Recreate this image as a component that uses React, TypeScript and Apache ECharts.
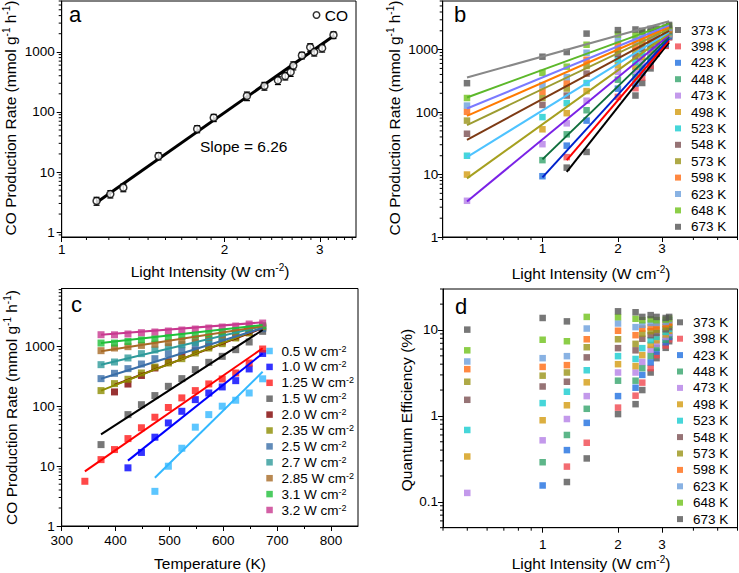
import React, { useEffect, useRef } from "react";
import * as echarts from "echarts";

const FONT = "'Liberation Sans', Arial, Helvetica, sans-serif";

// ---------------- Panel a ----------------
const aIntensity = [1.16, 1.23, 1.3, 1.51, 1.78, 1.91, 2.2, 2.37, 2.51, 2.59, 2.65, 2.68, 2.78, 2.88, 2.93, 3.03, 3.18];
const aRate = [3.3, 4.3, 5.5, 18.4, 52, 80, 184, 270, 335, 395, 460, 590, 870, 1190, 990, 1150, 1900];
const aError = [0.5, 0.6, 0.8, 2.5, 7, 11, 30, 40, 50, 55, 70, 90, 110, 170, 140, 160, 240];
const aFitX = [1.16, 3.19];
const aFitY = [3.1, 1870];

// ---------------- shared grid of conditions ----------------
const temperatures = [373, 398, 423, 448, 473, 498, 523, 548, 573, 598, 623, 648, 673];
const intensities = [0.5, 1.0, 1.25, 1.5, 2.0, 2.35, 2.5, 2.7, 2.85, 3.1, 3.2];
const intensityText = ["0.5", "1.0", "1.25", "1.5", "2.0", "2.35", "2.5", "2.7", "2.85", "3.1", "3.2"];

// CO production rate (mmol g-1 h-1) per light intensity, over temperatures 373..673 K
const rate05 = [null, null, null, null, 3.8, 10, 20, 45, 73, 101, 127, 168, 290];
const rate10 = [null, null, 9.4, 17, 30.6, 53, 83, 130, 168, 212, 270, 424, 770];
const rate125 = [12.9, 19, 29, 44, 66, 96, 139, 184, 238, 288, 363, 533, 914];
const rate15 = [23, null, 73, 107, 152, 217, 292, 413, 547, 689, 891, 1197, 1804];
const rate20 = [null, 175, 237, 330, 440, 560, 700, 850, 1000, 1200, 1450, 1750, 2050];
const rate235 = [184, 241, 285, 363, 457, 533, 630, 784, 950, 1123, 1397, 1693, 2100];
const rate25 = [292, 358, 429, 513, 630, 764, 880, 1040, 1230, 1432, 1630, 1927, 2000];
const rate27 = [500, 554, 647, 764, 880, 990, 1080, 1180, 1300, 1450, 1650, 1900, 2150];
const rate285 = [857, 950, 1000, 1050, 1100, 1170, 1250, 1350, 1440, 1570, 1720, 1950, 2170];
const rate31 = [1150, 1150, 1220, 1300, 1360, 1430, 1490, 1570, 1650, 1760, 1880, 2040, 2250];
const rate32 = [1585, 1580, 1630, 1714, 1760, 1828, 1900, 1972, 2050, 2130, 2215, 2393, 2485];
const ratesByIntensity = [rate05, rate10, rate125, rate15, rate20, rate235, rate25, rate27, rate285, rate31, rate32];
// extra low-temperature point of the 1.25 W cm-2 series
const extraT125 = 343;
const extraRate125 = 5.6;

// Panel b fitted lines (per temperature)
const bFitStartI = [1.25, 1.25, 1.0, 1.0, 0.5, 0.5, 0.5, 0.5, 0.5, 0.5, 0.5, 0.5, 0.5];
const bFitStartRate = [11, 17, 9, 17.5, 3.7, 8.7, 19, 36, 62, 87, 114, 171, 357];
const bFitEndI = 3.2;
const bFitEndRate = [1300, 1400, 1500, 1600, 1700, 1800, 1900, 2000, 2150, 2300, 2450, 2600, 2850];

// Panel c fitted lines (per intensity)
const cFitStartT = [473, 423, 343, 373, 398, 373, 373, 373, 373, 373, 373];
const cFitStartRate = [6.4, 12.4, 8.2, 34, 230, 184, 290, 500, 840, 1150, 1585];
const cFitEndT = 673;
const cFitEndRate = [380, 770, 940, 1900, 2050, 2100, 2050, 2200, 2200, 2300, 2550];

// Panel d: quantum efficiency (%) per temperature, over intensities
const qe373 = [null, null, 0.17, 0.32, 1.05, 1.37, 2.0, 3.2, 4.7, 6.2, 7.4];
const qe398 = [null, null, 0.257, 0.487, 1.25, 1.72, 2.44, 3.6, 5.1, 6.6, 7.8];
const qe423 = [null, 0.155, 0.4, 0.83, 1.7, 2.13, 3.0, 4.2, 5.6, 7.2, 8.3];
const qe448 = [null, 0.289, 0.6, 1.21, 2.57, 2.57, 3.6, 5.0, 6.2, 7.7, 8.7];
const qe473 = [0.127, 0.52, 0.92, 1.7, 3.2, 3.2, 4.25, 5.9, 6.9, 8.3, 9.2];
const qe498 = [0.337, 0.89, 1.33, 2.46, 4.0, 3.8, 5.1, 6.7, 7.6, 8.9, 9.8];
const qe523 = [0.686, 1.41, 1.91, 3.4, 4.96, 4.6, 6.15, 7.6, 8.3, 9.5, 10.3];
const qe548 = [1.54, 2.2, 2.5, 4.8, 6.15, 5.8, 7.9, 8.7, 9.2, 10.2, 10.8];
const qe573 = [2.5, 2.94, 3.2, 6.3, 7.8, 6.9, 9.1, 9.7, 10.1, 10.8, 11.5];
const qe598 = [3.5, 3.72, 3.9, 7.8, 9.8, 8.7, 10.4, 10.8, 11.0, 11.7, 12.2];
const qe623 = [4.3, 4.7, 4.96, 10.4, 11.9, 10.8, 11.5, 12.1, 12.1, 12.4, 13.0];
const qe648 = [5.8, 7.7, 7.4, 14.2, 14.1, 13.5, 13.0, 13.3, 13.0, 13.2, 13.6];
const qe673 = [10.1, 13.8, 12.6, null, 16.5, 16.1, 14.2, 14.9, 14.2, 13.8, 14.2];
const qeByTemp = [qe373, qe398, qe423, qe448, qe473, qe498, qe523, qe548, qe573, qe598, qe623, qe648, qe673];

// Tick labels
const aXTicks = [1, 2, 3];
const bdXTicks = [1, 2, 3];
const cXTicks = [300, 400, 500, 600, 700, 800];
const rateYTicks = [1, 10, 100, 1000];
const qeYTicks = [0.1, 1, 10];

// Colours
const tempPointColors = ["#555555", "#f0474f", "#1f6fe0", "#35a46c", "#b47fe6", "#d39b10", "#18cccf", "#7c5052", "#9a9418", "#ff6a12", "#6c9fdc", "#6fc21a", "#555555"];
const tempLineColors = ["#000000", "#ff0000", "#0022cc", "#0f6e3c", "#7a22e6", "#a6a020", "#4ec3ff", "#7d3a14", "#9c9c30", "#ff7a00", "#7a7aff", "#5cb82a", "#888888"];
const intPointColors = ["#33b8ff", "#0000ff", "#ff1a1a", "#555555", "#800000", "#8c8c00", "#3a6ea8", "#2e9a9a", "#a86a26", "#1fbf3a", "#c8388f"];
const intLineColors = ["#33b8ff", "#0000ff", "#ff0000", "#000000", "#800000", "#8c8c00", "#3a6ea8", "#2e9a9a", "#a86a26", "#1fbf3a", "#c8388f"];

const tempNames = temperatures.map((t) => `${t} K`);
const intNames = intensityText.map((s) => `${s} W cm-2`);
const SQUARE = "path://M0,0L10,0L10,10L0,10Z";

function logMinor(min: number, max: number, skip: number[] = []) {
  const out: number[] = [];
  for (let e = -3; e <= 4; e++) {
    for (let m = 2; m <= 9; m++) {
      const v = +(m * Math.pow(10, e)).toPrecision(6);
      if (v >= min && v <= max && skip.indexOf(v) < 0) out.push(v);
    }
  }
  return out;
}
function ninthMinor(max: number) {
  const out: number[] = [];
  for (let b = 1; b <= 3; b++) for (let k = 1; k <= 8; k++) { const v = b + k / 9; if (v <= max) out.push(v); }
  return out;
}

function tickSeries(grid: number, xs: number[], ys: number[], xMin: number, yMin: number) {
  const data: number[][] = [];
  xs.forEach((v) => data.push([v, yMin, 0]));
  ys.forEach((v) => data.push([xMin, v, 1]));
  return {
    type: "custom", xAxisIndex: grid, yAxisIndex: grid, silent: true, z: 5,
    data,
    renderItem: (_p: any, api: any) => {
      const pt = api.coord([api.value(0), api.value(1)]);
      const d = api.value(2);
      const shape = d === 0
        ? { x1: pt[0], y1: pt[1], x2: pt[0], y2: pt[1] + 3 }
        : { x1: pt[0], y1: pt[1], x2: pt[0] - 3, y2: pt[1] };
      return { type: "line", shape, style: { stroke: "#000", lineWidth: 1 } };
    },
  };
}

const baseAxis = (extra: any) => ({
  axisLine: { show: true, onZero: false, lineStyle: { color: "#000", width: 1 } },
  splitLine: { show: false },
  ...extra,
});
const tick = (vals?: number[]) => ({ show: true, length: 5, lineStyle: { color: "#000", width: 1 }, ...(vals ? { customValues: vals } : {}) });
const label = (margin: number, vals?: number[]) => ({
  show: true, color: "#000", fontSize: 13.5, fontFamily: FONT, margin,
  formatter: (v: number) => `${+(+v).toPrecision(6)}`,
  ...(vals ? { customValues: vals } : {}),
});

const supRich = { sup: { fontSize: 10, lineHeight: 10, verticalAlign: "top", fontFamily: FONT, fill: "#000", color: "#000" } };
const titleText = (x: number, y: number, text: string, rot = 0) => ({
  type: "text", x, y, rotation: rot, silent: true,
  style: { text, fontSize: 15.5, fontFamily: FONT, fill: "#000", align: "center", verticalAlign: "middle", lineHeight: 18, rich: supRich },
});
const panelLetter = (x: number, y: number, t: string) => ({
  type: "text", x, y, silent: true,
  style: { text: t, fontSize: 22, fontFamily: FONT, fill: "#000", align: "left", verticalAlign: "middle" },
});

function buildOption() {
  const series: any[] = [];
  // ---- a ----
  series.push({
    type: "custom", name: "err-a", xAxisIndex: 0, yAxisIndex: 0, silent: true, z: 3,
    data: aIntensity.map((x, i) => [x, aRate[i], aError[i]]),
    renderItem: (_p: any, api: any) => {
      const x = api.value(0), y = api.value(1), e = api.value(2);
      const t = api.coord([x, y + e]);
      const b = api.coord([x, Math.max(y - e, 0.9)]);
      const s = { stroke: "#000", lineWidth: 1.2 };
      return {
        type: "group",
        children: [
          { type: "line", shape: { x1: t[0], y1: t[1], x2: b[0], y2: b[1] }, style: s },
          { type: "line", shape: { x1: t[0] - 3, y1: t[1], x2: t[0] + 3, y2: t[1] }, style: s },
          { type: "line", shape: { x1: b[0] - 3, y1: b[1], x2: b[0] + 3, y2: b[1] }, style: s },
        ],
      };
    },
  });
  series.push({
    type: "line", name: "fit-a", xAxisIndex: 0, yAxisIndex: 0, symbol: "none", silent: true, z: 2,
    data: aFitX.map((x, i) => [x, aFitY[i]]),
    lineStyle: { color: "#000", width: 3 },
  });
  series.push({
    type: "scatter", name: "CO", xAxisIndex: 0, yAxisIndex: 0, symbol: "circle", symbolSize: 7, z: 4,
    data: aIntensity.map((x, i) => [x, aRate[i]]),
    itemStyle: { color: "#fff", borderColor: "#000", borderWidth: 1.5 },
  });
  series.push(tickSeries(0, ninthMinor(3.5), logMinor(0.83, 7000), 1, 0.83));

  // ---- b ----
  temperatures.forEach((t, j) => {
    const data: number[][] = [];
    intensities.forEach((I, i) => { const v = ratesByIntensity[i][j]; if (v != null) data.push([I, v]); });
    series.push({
      type: "scatter", name: tempNames[j], xAxisIndex: 1, yAxisIndex: 1, symbol: "rect", symbolSize: 6.5, z: 2,
      data, itemStyle: { color: tempPointColors[j] },
    });
  });
  temperatures.forEach((t, j) => {
    series.push({
      type: "line", name: `fit-b-${t}`, xAxisIndex: 1, yAxisIndex: 1, symbol: "none", silent: true, z: 3,
      data: [[bFitStartI[j], bFitStartRate[j]], [bFitEndI, bFitEndRate[j]]],
      lineStyle: { color: tempLineColors[j], width: 2 },
    });
  });
  series.push(tickSeries(1, logMinor(0.4, 6, [1, 2, 3]), logMinor(1, 6000), 0.4, 1));

  // ---- c ----
  intensities.forEach((I, i) => {
    const data: number[][] = [];
    if (i === 2) data.push([extraT125, extraRate125]);
    temperatures.forEach((T, j) => { const v = ratesByIntensity[i][j]; if (v != null) data.push([T, v]); });
    series.push({
      type: "scatter", name: intNames[i], xAxisIndex: 2, yAxisIndex: 2, symbol: "rect", symbolSize: 7, z: 2,
      data, itemStyle: { color: intPointColors[i] },
    });
  });
  intensities.forEach((I, i) => {
    series.push({
      type: "line", name: `fit-c-${I}`, xAxisIndex: 2, yAxisIndex: 2, symbol: "none", silent: true, z: 3,
      data: [[cFitStartT[i], cFitStartRate[i]], [cFitEndT, cFitEndRate[i]]],
      lineStyle: { color: intLineColors[i], width: 2 },
    });
  });
  series.push(tickSeries(2, [], logMinor(1, 9400), 300, 1));

  // ---- d ----
  temperatures.forEach((t, j) => {
    const data: number[][] = [];
    intensities.forEach((I, i) => { const v = qeByTemp[j][i]; if (v != null) data.push([I, v]); });
    series.push({
      type: "scatter", name: tempNames[j], xAxisIndex: 3, yAxisIndex: 3, symbol: "rect", symbolSize: 6.5, z: 2,
      data, itemStyle: { color: tempPointColors[j] },
    });
  });
  series.push(tickSeries(3, logMinor(0.4, 6, [1, 2, 3]), logMinor(0.05, 30), 0.4, 0.05));

  const legendText = { color: "#000", fontSize: 13.5, fontFamily: FONT, lineHeight: 14 };

  return {
    animation: false,
    backgroundColor: "#fff",
    textStyle: { fontFamily: FONT },
    grid: [
      { left: 61.7, top: 1, width: 294.3, height: 236, show: true, borderColor: "#000", borderWidth: 1, outerBoundsMode: "none" },
      { left: 442.7, top: 1, width: 294.8, height: 236, show: true, borderColor: "#000", borderWidth: 1, outerBoundsMode: "none" },
      { left: 61.7, top: 288.5, width: 296.3, height: 237.5, show: true, borderColor: "#000", borderWidth: 1, outerBoundsMode: "none" },
      { left: 443, top: 289, width: 294.5, height: 238.7, show: true, borderColor: "#000", borderWidth: 1, outerBoundsMode: "none" },
    ],
    xAxis: [
      baseAxis({ gridIndex: 0, type: "log", logBase: 10, min: 1, max: 3.5, axisTick: tick(aXTicks), axisLabel: label(5.5, aXTicks) }),
      baseAxis({ gridIndex: 1, type: "log", logBase: 10, min: 0.4, max: 6, axisTick: tick(bdXTicks), axisLabel: label(4, bdXTicks) }),
      baseAxis({ gridIndex: 2, type: "value", min: 300, max: 850, interval: 100, axisTick: tick(cXTicks), axisLabel: label(7.5, cXTicks),
        minorTick: { show: true, splitNumber: 2, length: 3, lineStyle: { color: "#000" } } }),
      baseAxis({ gridIndex: 3, type: "log", logBase: 10, min: 0.4, max: 6, axisTick: tick(bdXTicks), axisLabel: label(9.5, bdXTicks) }),
    ],
    yAxis: [
      baseAxis({ gridIndex: 0, type: "log", logBase: 10, min: 0.83, max: 7000, axisTick: tick(rateYTicks), axisLabel: label(7, rateYTicks) }),
      baseAxis({ gridIndex: 1, type: "log", logBase: 10, min: 1, max: 6000, axisTick: tick(rateYTicks), axisLabel: label(4.5, rateYTicks) }),
      baseAxis({ gridIndex: 2, type: "log", logBase: 10, min: 1, max: 9400, axisTick: tick(rateYTicks), axisLabel: label(7, rateYTicks) }),
      baseAxis({ gridIndex: 3, type: "log", logBase: 10, min: 0.05, max: 30, axisTick: tick(qeYTicks), axisLabel: label(5, qeYTicks) }),
    ],
    legend: [
      {
        data: ["CO"], left: 312.5, top: 7, icon: "circle", itemWidth: 6.5, itemHeight: 6.5, padding: 0, selectedMode: false,
        itemStyle: { color: "#fff", borderColor: "#000", borderWidth: 1.5 },
        textStyle: { color: "#000", fontSize: 15.5, fontFamily: FONT, lineHeight: 16 },
      },
      {
        data: tempNames, orient: "vertical", left: 675, top: 23, icon: SQUARE, itemWidth: 16, itemHeight: 6, itemGap: 2.4,
        padding: 0, selectedMode: false, textStyle: legendText,
      },
      {
        data: intNames, orient: "vertical", left: 266.3, top: 344, icon: SQUARE, itemWidth: 14, itemHeight: 6.5, itemGap: 1.9,
        padding: 0, selectedMode: false,
        formatter: (n: string) => n.replace(" cm-2", " cm{sup|-2}"),
        textStyle: { ...legendText, fontSize: 13.5, rich: { sup: { fontSize: 9, lineHeight: 9, verticalAlign: "top", color: "#000", fontFamily: FONT } } },
      },
      {
        data: tempNames, orient: "vertical", left: 677, top: 315.3, icon: SQUARE, itemWidth: 16, itemHeight: 6, itemGap: 2.4,
        padding: 0, selectedMode: false, textStyle: legendText,
      },
    ],
    graphic: [
      titleText(210, 271.7, "Light Intensity (W cm{sup|-2})"),
      titleText(591, 273.3, "Light Intensity (W cm{sup|-2})"),
      titleText(210, 563.3, "Temperature (K)"),
      titleText(591, 563.5, "Light Intensity (W cm{sup|-2})"),
      titleText(10, 118, "CO Production Rate (mmol g{sup|-1} h{sup|-1})", Math.PI / 2),
      titleText(394, 118, "CO Production Rate (mmol g{sup|-1} h{sup|-1})", Math.PI / 2),
      titleText(11.5, 407.5, "CO Production Rate (mmol g{sup|-1} h{sup|-1})", Math.PI / 2),
      titleText(406.5, 410, "Quantum Efficiency (%)", Math.PI / 2),
      panelLetter(69, 14.1, "a"),
      panelLetter(454, 14.1, "b"),
      panelLetter(71, 304.1, "c"),
      panelLetter(455, 306.4, "d"),
      {
        type: "text", x: 200, y: 146.3, silent: true,
        style: { text: "Slope = 6.26", fontSize: 15.5, fontFamily: FONT, fill: "#000", align: "left", verticalAlign: "middle" },
      },
    ],
    series,
  };
}

export default function App() {
  const ref = useRef<HTMLDivElement>(null);
  useEffect(() => {
    if (!ref.current) return;
    const chart = echarts.init(ref.current, undefined, { renderer: "svg" });
    chart.setOption(buildOption() as any);
    return () => chart.dispose();
  }, []);
  return (
    <div
      ref={ref}
      style={{ position: "fixed", left: 0, top: 0, width: 739, height: 573, background: "#fff" }}
    />
  );
}
